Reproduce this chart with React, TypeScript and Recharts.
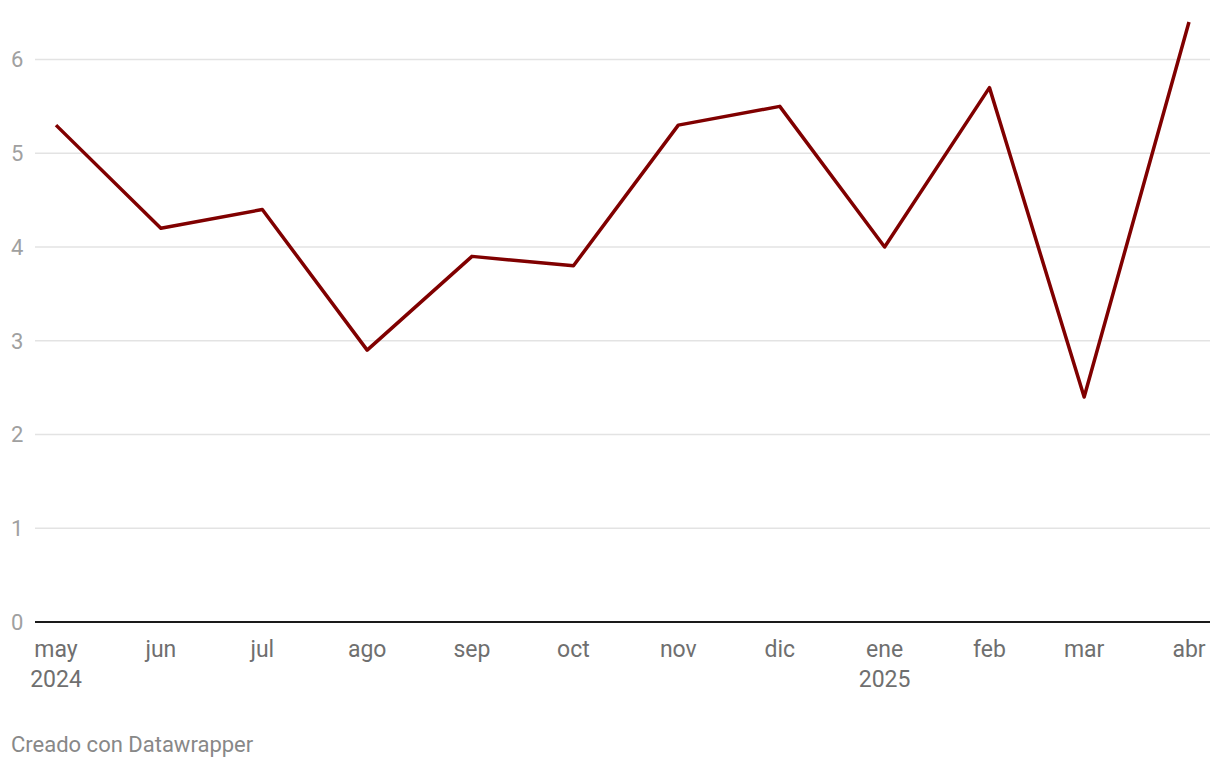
import React from 'react';
import { LineChart, Line, XAxis, YAxis, CartesianGrid } from 'recharts';

const dates = [
  '2024-05-01', '2024-06-01', '2024-07-01', '2024-08-01', '2024-09-01', '2024-10-01',
  '2024-11-01', '2024-12-01', '2025-01-01', '2025-02-01', '2025-03-01', '2025-04-01',
];
const months = ['may', 'jun', 'jul', 'ago', 'sep', 'oct', 'nov', 'dic', 'ene', 'feb', 'mar', 'abr'];
const years = ['2024', '', '', '', '', '', '', '', '2025', '', '', ''];
const values = [5.3, 4.2, 4.4, 2.9, 3.9, 3.8, 5.3, 5.5, 4.0, 5.7, 2.4, 6.4];
const yTicks = [0, 1, 2, 3, 4, 5, 6];

const times = dates.map((d) => Date.parse(d + 'T00:00:00Z'));
const data = times.map((t, i) => ({ t, value: values[i] }));

const font = 'Roboto, "Noto Sans", sans-serif';

const MonthTick = (props: any) => {
  const { x, y, payload } = props;
  const i = times.indexOf(payload.value);
  const year = years[i];
  return (
    <g>
      <text x={x} y={y + 27} textAnchor="middle" fill="#6f6f6f" fontSize={23} fontFamily={font}>
        {months[i]}
      </text>
      {year && (
        <text x={x} y={y + 57} textAnchor="middle" fill="#6f6f6f" fontSize={23} fontFamily={font}>
          {year}
        </text>
      )}
    </g>
  );
};

const ValueTick = (props: any) => {
  const { y, payload } = props;
  return (
    <text x={11} y={y} dy="0.36em" textAnchor="start" fill="#a0a0a0" fontSize={22} fontFamily={font}>
      {payload.value}
    </text>
  );
};

export default function App() {
  return (
    <div style={{ position: 'absolute', left: 0, top: 0, width: 1220, height: 768, background: '#fff', fontFamily: font }}>
      <LineChart width={1220} height={700} data={data} margin={{ top: 22, right: 10, bottom: 0, left: 0 }}>
        <CartesianGrid horizontal vertical={false} horizontalValues={yTicks} stroke="#e3e3e3" strokeWidth={1.5} />
        <XAxis
          dataKey="t"
          type="number"
          scale="time"
          domain={[times[0], times[times.length - 1]]}
          ticks={times}
          interval={0}
          padding={{ left: 21, right: 21 }}
          axisLine={{ stroke: '#1a1a1a', strokeWidth: 2 }}
          tickLine={false}
          height={78}
          tick={<MonthTick />}
        />
        <YAxis
          type="number"
          domain={[0, 6.4]}
          ticks={yTicks}
          width={35}
          axisLine={false}
          tickLine={false}
          tick={<ValueTick />}
        />
        <Line
          type="linear"
          dataKey="value"
          stroke="#800000"
          strokeWidth={3.5}
          dot={false}
          activeDot={false}
          strokeLinejoin="round"
          isAnimationActive={false}
        />
      </LineChart>
      <div style={{ position: 'absolute', left: 11, top: 732, fontSize: 22, color: '#888', fontFamily: font }}>
        Creado con Datawrapper
      </div>
    </div>
  );
}
